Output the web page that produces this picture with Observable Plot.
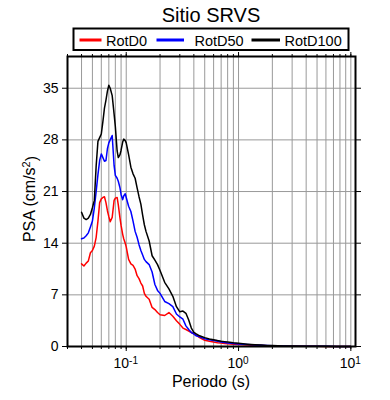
<!DOCTYPE html>
<html><head><meta charset="utf-8">
<script src="https://cdn.jsdelivr.net/npm/d3@7"></script>
<script src="https://cdn.jsdelivr.net/npm/@observablehq/plot@0.6"></script>
<style>body{margin:0;background:#fff;} #chart{width:390px;height:400px;}</style>
</head><body><div id="chart"></div>
<script>
const titleText = "Sitio SRVS";
const xLabel = "Periodo (s)";
const yLabel = "PSA (cm/s²)";
const seriesNames = ["RotD0", "RotD50", "RotD100"];
const seriesColors = ["#ff0000", "#0000ff", "#000000"];
const yTicks = [0, 7, 14, 21, 28, 35];
const xDecades = [0.1, 1, 10];
const xDecadeExp = ["-1", "0", "1"];

const periods = [0.040,0.042,0.044,0.046,0.048,0.050,0.052,0.054,0.056,0.058,
0.060,0.062,0.064,0.066,0.068,0.070,0.072,0.075,0.078,0.080,
0.083,0.085,0.088,0.090,0.093,0.095,0.098,0.100,0.105,0.110,
0.115,0.120,0.125,0.130,0.135,0.140,0.145,0.150,0.160,0.170,
0.180,0.190,0.200,0.220,0.240,0.260,0.280,0.300,0.320,0.340,
0.360,0.380,0.400,0.420,0.450,0.500,0.550,0.600,0.650,0.700,
0.750,0.800,0.900,1.000,1.200,1.400,1.600,1.800,2.000,2.500,
3.000,4.000,5.000,6.000,7.500,10.00];

const rotD0 = [
11.2,10.9,11.3,11.6,12.7,13.0,13.6,14.8,17.0,19.5,
20.0,20.2,20.3,19.5,18.4,17.6,16.9,17.5,19.8,20.1,
20.2,19.2,17.4,16.4,15.2,14.6,14.0,13.5,11.8,11.2,
11.0,10.5,9.6,9.2,8.6,8.2,7.2,6.8,6.4,5.3,
5.0,4.6,4.3,4.2,4.6,4.1,3.5,3.0,2.5,2.3,
2.1,1.9,1.7,1.55,1.2,0.85,0.72,0.6,0.52,0.46,
0.41,0.37,0.3,0.26,0.2,0.15,0.12,0.1,0.08,0.05,
0.04,0.03,0.02,0.015,0.01,0.006];

const rotD50 = [
14.6,14.7,15.0,15.4,16.2,17.0,18.8,21.0,23.3,25.2,
26.1,25.6,25.1,25.2,26.8,27.6,28.0,28.6,24.5,23.2,
22.8,22.4,21.5,20.6,19.9,20.4,20.7,20.2,19.0,18.3,
17.0,15.6,14.8,13.8,13.0,12.4,11.8,11.5,11.1,10.1,
8.4,7.6,7.2,6.1,5.8,5.4,4.4,4.0,3.7,2.8,
2.3,1.9,1.7,1.45,1.3,1.05,0.9,0.8,0.7,0.6,
0.53,0.48,0.41,0.34,0.26,0.2,0.16,0.13,0.1,0.07,
0.05,0.035,0.025,0.02,0.012,0.008];

const rotD100 = [
18.2,17.4,17.2,17.4,17.9,18.8,19.8,24.5,27.8,28.3,
28.8,30.5,32.3,33.4,34.6,35.4,35.0,34.0,31.5,29.8,
26.5,25.6,26.0,26.6,27.7,28.1,27.9,27.6,26.0,24.3,
23.4,22.8,21.5,20.3,19.3,17.8,16.5,15.6,14.3,12.3,
11.7,11.1,10.3,8.7,7.8,6.8,5.4,4.7,4.8,4.5,
3.6,2.5,1.9,1.7,1.45,1.2,1.02,0.9,0.8,0.72,
0.66,0.6,0.5,0.44,0.32,0.24,0.19,0.15,0.12,0.08,
0.06,0.04,0.03,0.02,0.015,0.01];

const FONT = "'Liberation Sans', Arial, Helvetica, sans-serif";
const seriesValues = [rotD0, rotD50, rotD100];
const table = [];
seriesNames.forEach((name, i) => {
  periods.forEach((p, j) => table.push({series: name, period: p, psa: seriesValues[i][j]}));
});

const xDomain = [0.03, 11];
const xGrid = d3.scaleLog().domain(xDomain).ticks();
const blank = () => "";

const plot = Plot.plot({
  width: 390, height: 400,
  marginTop: 56, marginBottom: 54, marginLeft: 67, marginRight: 35,
  style: {fontFamily: FONT, fontSize: "14px", color: "black", background: "white", overflow: "visible"},
  x: {type: "log", domain: xDomain},
  y: {domain: [0, 39.3]},
  color: {domain: seriesNames, range: seriesColors},
  marks: [
    Plot.ruleX(xGrid, {stroke: "#999", strokeWidth: 1}),
    Plot.ruleY(yTicks.filter(d => d > 0), {stroke: "#999", strokeWidth: 1}),
    Plot.line(table, {x: "period", y: "psa", z: "series", stroke: "series", strokeWidth: 1.5}),
    Plot.axisX(xGrid, {anchor: "bottom", tickSize: 3, tickFormat: blank, label: null, strokeWidth: 1}),
    Plot.axisX(xDecades, {anchor: "bottom", tickSize: 5, tickFormat: blank, label: null, strokeWidth: 1}),
    Plot.axisX(xGrid, {anchor: "top", tickSize: 3, tickFormat: blank, label: null, strokeWidth: 1}),
    Plot.axisX(xDecades, {anchor: "top", tickSize: 5, tickFormat: blank, label: null, strokeWidth: 1}),
    Plot.axisY(yTicks, {anchor: "left", tickSize: 5, tickPadding: 4, label: null, fontSize: 14}),
    Plot.axisY(yTicks, {anchor: "right", tickSize: 5, tickFormat: blank, label: null}),
    Plot.frame({stroke: "black", strokeWidth: 2})
  ]
});

document.getElementById("chart").appendChild(plot);
const svg = d3.select(plot);
const sx = plot.scale("x");

// x tick labels with superscripts
xDecades.forEach((d, i) => {
  const t = svg.append("text")
    .attr("x", sx.apply(d)).attr("y", 368)
    .attr("text-anchor", "middle")
    .attr("font-family", FONT).attr("font-size", 14).attr("fill", "black");
  t.append("tspan").text("10");
  t.append("tspan").attr("dy", "-0.45em").attr("font-size", 10).text(xDecadeExp[i]);
});

// axis titles
svg.append("text").attr("x", 211).attr("y", 387).attr("text-anchor", "middle")
  .attr("font-family", FONT).attr("font-size", 16).attr("fill", "black").text(xLabel);
const yl = svg.append("text").attr("transform", "translate(34.5,199) rotate(-90)")
  .attr("text-anchor", "middle").attr("font-family", FONT).attr("font-size", 16).attr("fill", "black");
yl.append("tspan").text("PSA (cm/s");
yl.append("tspan").attr("dy", "-0.4em").attr("font-size", 11).text("2");
yl.append("tspan").attr("dy", "0.4em").text(")");

// title
svg.append("text").attr("x", 211).attr("y", 22).attr("text-anchor", "middle")
  .attr("font-family", FONT).attr("font-size", 20).attr("fill", "black").text(titleText);

// legend
const lg = svg.append("g");
lg.append("rect").attr("x", 73.5).attr("y", 28.5).attr("width", 275).attr("height", 21.5)
  .attr("fill", "white").attr("stroke", "black").attr("stroke-width", 2);
const legendLines = [[79.5, 101.5], [156.5, 184], [251.5, 280]];
const legendText = [106, 194.5, 284.5];
seriesNames.forEach((name, i) => {
  lg.append("line").attr("x1", legendLines[i][0]).attr("x2", legendLines[i][1])
    .attr("y1", 40).attr("y2", 40).attr("stroke", seriesColors[i]).attr("stroke-width", 3);
  lg.append("text").attr("x", legendText[i]).attr("y", 45.5).attr("text-anchor", "start")
    .attr("font-family", FONT).attr("font-size", 14.5).attr("fill", "black").text(name);
});
</script>
</body></html>
